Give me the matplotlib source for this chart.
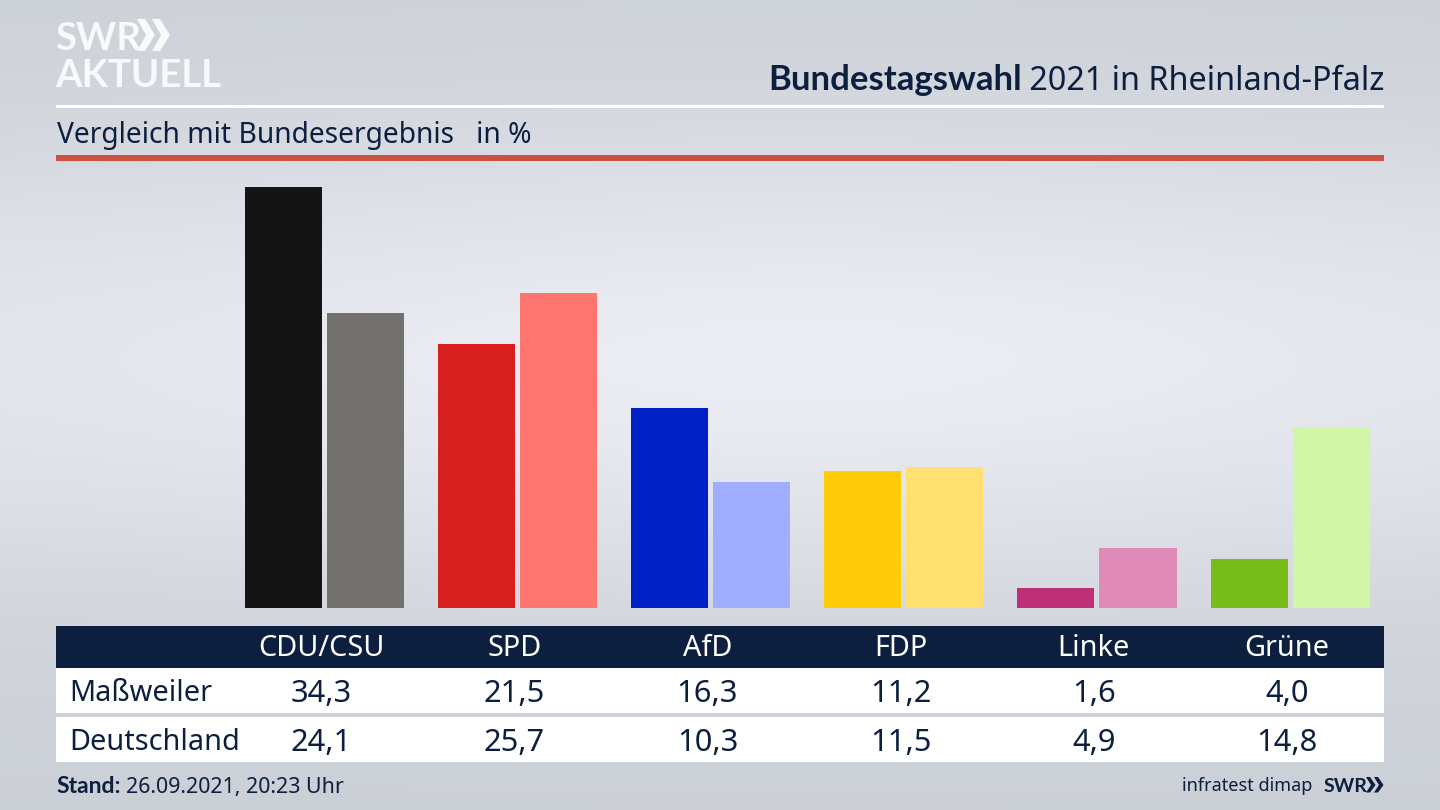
import numpy as np
import matplotlib
matplotlib.use("Agg")
import matplotlib.pyplot as plt
from matplotlib.patches import Rectangle, Polygon
from matplotlib.transforms import blended_transform_factory, IdentityTransform

parties = ["CDU/CSU", "SPD", "AfD", "FDP", "Linke", "Grüne"]
local_name = "Maßweiler"
national_name = "Deutschland"
local_values = [34.3, 21.5, 16.3, 11.2, 1.6, 4.0]
national_values = [24.1, 25.7, 10.3, 11.5, 4.9, 14.8]
local_colors = ["#141414", "#d71f1d", "#0020c6", "#ffcc0a", "#bd2f77", "#78bc1b"]
national_colors = ["#72716e", "#ff7570", "#a0aeff", "#ffe071", "#e08ab8", "#d2f6a8"]

NAVY = "#0c1f3f"
LOGO = "Lato"
plt.rcParams["font.family"] = ["Noto Sans", "DejaVu Sans"]
W, H = 1440, 810
fig = plt.figure(figsize=(14.4, 8.1), dpi=100)

# Backdrop in pixel coordinates
bg = fig.add_axes([0, 0, 1, 1], zorder=0)
bg.set_xlim(0, W); bg.set_ylim(H, 0); bg.axis("off")
yy, xx = np.mgrid[0:H:82j, 0:W:145j]
light = np.exp(-((yy - 360) / 240) ** 2) * (0.7 + 0.3 * np.exp(-((xx - 800) / 650) ** 2))
top, peak = np.array([203, 207, 214]), np.array([235, 237, 243])
img = (top + (peak - top) * light[..., None]) / 255
bg.imshow(img, extent=(0, W, H, 0), aspect="auto", interpolation="bicubic")
bg.set_xlim(0, W); bg.set_ylim(H, 0)

# Rules
bg.add_patch(Rectangle((56, 104.5), 1328, 3, color="white", lw=0))
bg.add_patch(Rectangle((56, 155), 1328, 5.5, color="#cb5140", lw=0))

# Logo
bg.text(55, 50, "SWR", color="#f8f9fa", fontsize=27.5, fontweight="bold", family=LOGO, va="baseline")
for dx in (0, 15):
    x0 = 137 + dx
    bg.add_patch(Polygon([(x0, 19), (x0 + 8, 19), (x0 + 18, 35), (x0 + 8, 51), (x0, 51), (x0 + 9, 35)], color="#f8f9fa", lw=0))
bg.text(55, 87, "AKTUELL", color="#f8f9fa", fontsize=27.5, fontweight="bold", family=LOGO, va="baseline")

# Titles
t = bg.text(1384, 90, " 2021 in Rheinland-Pfalz", color=NAVY, fontsize=23.3, ha="right", va="baseline")
fig.canvas.draw()
bb = t.get_window_extent()
bg.text(bb.x0 + 1, 90, "Bundestagswahl", color=NAVY, fontsize=25, fontweight="bold", family="Lato", ha="right", va="baseline",
        transform=blended_transform_factory(IdentityTransform(), bg.transData))
bg.text(57, 142.5, "Vergleich mit Bundesergebnis   in %", color=NAVY, fontsize=20.3, va="baseline")

# Bars
ax = fig.add_axes([224.5 / W, (H - 608) / H, (1383.5 - 224.5) / W, (608 - 160) / H], zorder=1)
ax.patch.set_alpha(0)
ax.set_xlim(-0.5, 5.5)
ax.set_ylim(0, 36.54)
ax.axis("off")
xpos = np.arange(len(parties))
ax.bar(xpos - 0.196, local_values, width=0.399, color=local_colors)
ax.bar(xpos + 0.229, national_values, width=0.399, color=national_colors)

# Table
bg.add_patch(Rectangle((56, 626), 1328, 42, color=NAVY, lw=0))
bg.add_patch(Rectangle((56, 668), 1328, 45, color="white", lw=0))
bg.add_patch(Rectangle((56, 717), 1328, 45, color="white", lw=0))
tr = blended_transform_factory(ax.transData, bg.transData)
for i, p in enumerate(parties):
    bg.text(i, 656, p, color="white", fontsize=20.8, ha="center", va="baseline", transform=tr, zorder=3)
    bg.text(i, 702, f"{local_values[i]:.1f}".replace(".", ","), color=NAVY, fontsize=22.2, ha="center", va="baseline", transform=tr, zorder=3)
    bg.text(i, 751, f"{national_values[i]:.1f}".replace(".", ","), color=NAVY, fontsize=22.2, ha="center", va="baseline", transform=tr, zorder=3)
bg.text(69.5, 701, local_name, color=NAVY, fontsize=20.8, va="baseline", zorder=3)
bg.text(69.5, 750, national_name, color=NAVY, fontsize=20.8, va="baseline", zorder=3)

# Footer
bg.text(56, 793, "Stand:", color=NAVY, fontsize=16.5, fontweight="bold", family="Lato", va="baseline")
bg.text(126, 793, "26.09.2021, 20:23 Uhr", color=NAVY, fontsize=15.4, va="baseline")
bg.text(1312, 791, "infratest dimap", color=NAVY, fontsize=13, ha="right", va="baseline")
bg.text(1324, 791.5, "SWR", color=NAVY, fontsize=14, fontweight="bold", family=LOGO, va="baseline")
for dx in (0, 8):
    x0 = 1366 + dx
    bg.add_patch(Polygon([(x0, 777), (x0 + 4, 777), (x0 + 9.5, 785), (x0 + 4, 792.5), (x0, 792.5), (x0 + 5, 785)], color=NAVY, lw=0))

fig.savefig("out.png", dpi=100)
